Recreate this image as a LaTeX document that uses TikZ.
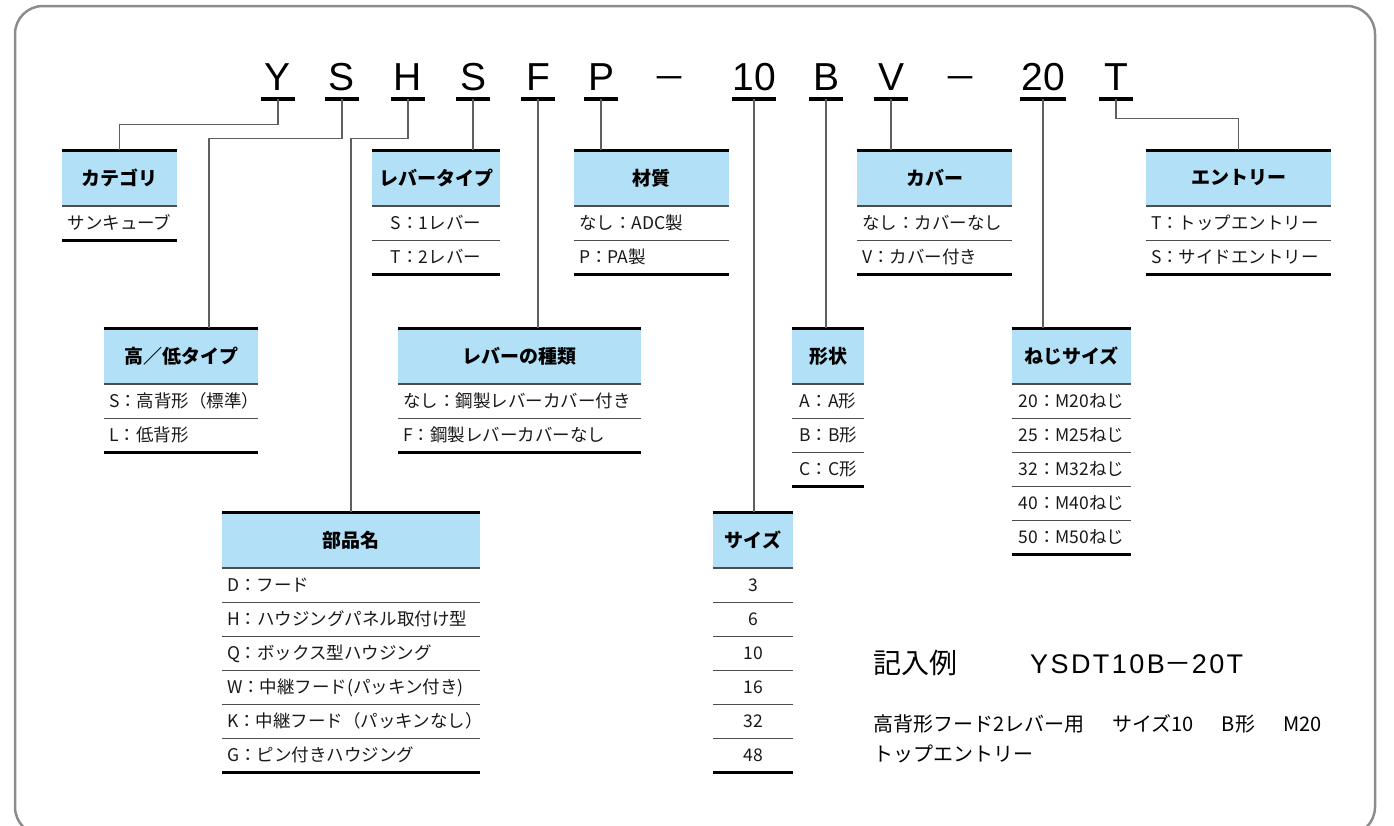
\documentclass[tikz,border=0pt]{standalone}
\usepackage{fontspec}
\setmainfont{Noto Sans CJK JP}
\newfontfamily\codefont{Liberation Sans}
\usetikzlibrary{calc}

\definecolor{headblue}{RGB}{178,225,247}
\definecolor{framegray}{RGB}{140,140,140}
\definecolor{linkgray}{RGB}{95,95,95}

% #1 name, #2 centre x, #3 top y, #4 width, #5 header, #6 rows, #7 l or c
\newcommand\spectable[7]{%
  \pgfmathsetmacro\tw{#4-10}
  \node[head, minimum width=#4pt] (#1) at (#2,#3) {#5};
  \draw[toprule] (#1.north west) -- (#1.north east);
  \draw[midrule] (#1.south west) -- (#1.south east);
  \foreach \txt [count=\i] in {#6} {
    \node[item, minimum width=#4pt] (#1-\i) at ($(#1.south)+(0,{34*(\i-1)})$) {\makebox[\tw pt][#7]{\txt}};
    \draw[midrule] (#1-\i.south west) -- (#1-\i.south east);
    \xdef\lastrow{\i}
  }
  \draw[toprule] (#1-\lastrow.south west) -- (#1-\lastrow.south east);
}

\begin{document}
\begin{tikzpicture}
    [x=1pt,y=-1pt,
    code/.style={font=\codefont\fontsize{39}{39}\selectfont, anchor=base, inner xsep=0pt, inner ysep=8.5pt, text height=28pt, text depth=0pt, minimum width=34pt},
    codedash/.style={font=\fontsize{34}{34}\selectfont, anchor=base, inner sep=0pt},
    codebar/.style={line width=4pt},
    head/.style={anchor=north, fill=headblue, inner sep=0pt, minimum height=55.5pt, font=\fontsize{19}{19}\bfseries\selectfont},
    item/.style={anchor=north, inner xsep=5pt, inner ysep=0pt, minimum height=34pt, text height=14pt, text depth=0.7pt, text=black!90, font=\fontsize{17.5}{17.5}\selectfont},
    toprule/.style={line width=3pt},
    midrule/.style={line width=1.4pt, draw=black!70},
    link/.style={draw=linkgray, line width=1.3pt}]
\useasboundingbox (0,0) rectangle (1394,825);
\draw[framegray, line width=2.5pt, rounded corners=28pt] (15,6) rectangle (1375,835);

% code letters
\node[code] (kcat) at (278,90) {Y};
\node[code] (khl) at (342,90) {S};
\node[code] (kprt) at (408,90) {H};
\node[code] (klvt) at (473,90) {S};
\node[code] (klvk) at (538,90) {F};
\node[code] (kmat) at (601,90) {P};
\node[codedash] (kdash1) at (669,90) {－};
\node[code, minimum width=42pt] (ksiz) at (754,90) {10};
\node[code] (kshp) at (826,90) {B};
\node[code] (kcov) at (891,90) {V};
\node[codedash] (kdash2) at (960,90) {－};
\node[code, minimum width=46pt] (kthr) at (1043,90) {20};
\node[code] (kent) at (1116,90) {T};
\foreach \k in {kcat,khl,kprt,klvt,klvk,kmat,ksiz,kshp,kcov,kthr,kent}
  \draw[codebar] (\k.south west) -- (\k.south east);

% tables
\spectable{cat}{119.5}{150}{115}{カテゴリ}{サンキューブ}{c}
\spectable{lvt}{436}{150}{128}{レバータイプ}{S：1レバー,T：2レバー}{c}
\spectable{mat}{651.5}{150}{155}{材質}{なし：ADC製,P：PA製}{l}
\spectable{cov}{934.5}{150}{155}{カバー}{なし：カバーなし,V：カバー付き}{l}
\spectable{ent}{1238.5}{150}{185}{エントリー}{T：トップエントリー,S：サイドエントリー}{l}
\spectable{hl}{181}{328}{154}{高／低タイプ}{S：高背形（標準）,L：低背形}{l}
\spectable{lvk}{519.5}{328}{243}{レバーの種類}{なし：鋼製レバーカバー付き,F：鋼製レバーカバーなし}{l}
\spectable{shp}{828}{328}{72}{形状}{A：A形,B：B形,C：C形}{c}
\spectable{thr}{1071.5}{328}{119}{ねじサイズ}{20：M20ねじ,25：M25ねじ,32：M32ねじ,40：M40ねじ,50：M50ねじ}{c}
\spectable{prt}{351}{512}{258}{部品名}{D：フード,H：ハウジングパネル取付け型,Q：ボックス型ハウジング,W：中継フード(パッキン付き),K：中継フード（パッキンなし）,G：ピン付きハウジング}{l}
\spectable{siz}{753}{512}{80}{サイズ}{3,6,10,16,32,48}{c}

% connectors
\draw[link] (kcat.south) -- ++(0,25.5) -| (cat.north);
\draw[link] (khl.south) -- ++(0,39.5) -| ([xshift=28pt]hl.north);
\draw[link] (kprt.south) -- ++(0,39.5) -| (prt.north);
\draw[link] (klvt.south) -- (klvt.south |- lvt.north);
\draw[link] (klvk.south) -- (klvk.south |- lvk.north);
\draw[link] (kmat.south) -- (kmat.south |- mat.north);
\draw[link] (ksiz.south) -- (ksiz.south |- siz.north);
\draw[link] (kshp.south) -- (kshp.south |- shp.north);
\draw[link] (kcov.south) -- (kcov.south |- cov.north);
\draw[link] (kthr.south) -- (kthr.south |- thr.north);
\draw[link] (kent.south) -- ++(0,19.5) -| (ent.north);

% example
\node[anchor=base west, inner sep=0pt, font=\fontsize{28}{28}\selectfont] (extitle) at (873,673) {記入例};
\node[anchor=base west, inner sep=0pt, font=\codefont\fontsize{27}{27}\selectfont\addfontfeature{LetterSpace=9}] (excode) at (1030,673) {YSDT10B{\rmfamily －}20T};
\node[anchor=north west, inner sep=0pt, align=left, font=\fontsize{20}{30}\selectfont] (exnote) at (873,714)
  {高背形フード2レバー用\hspace{1.4em}サイズ10\hspace{1.4em}B形\hspace{1.4em}M20\\トップエントリー};
\end{tikzpicture}
\end{document}
